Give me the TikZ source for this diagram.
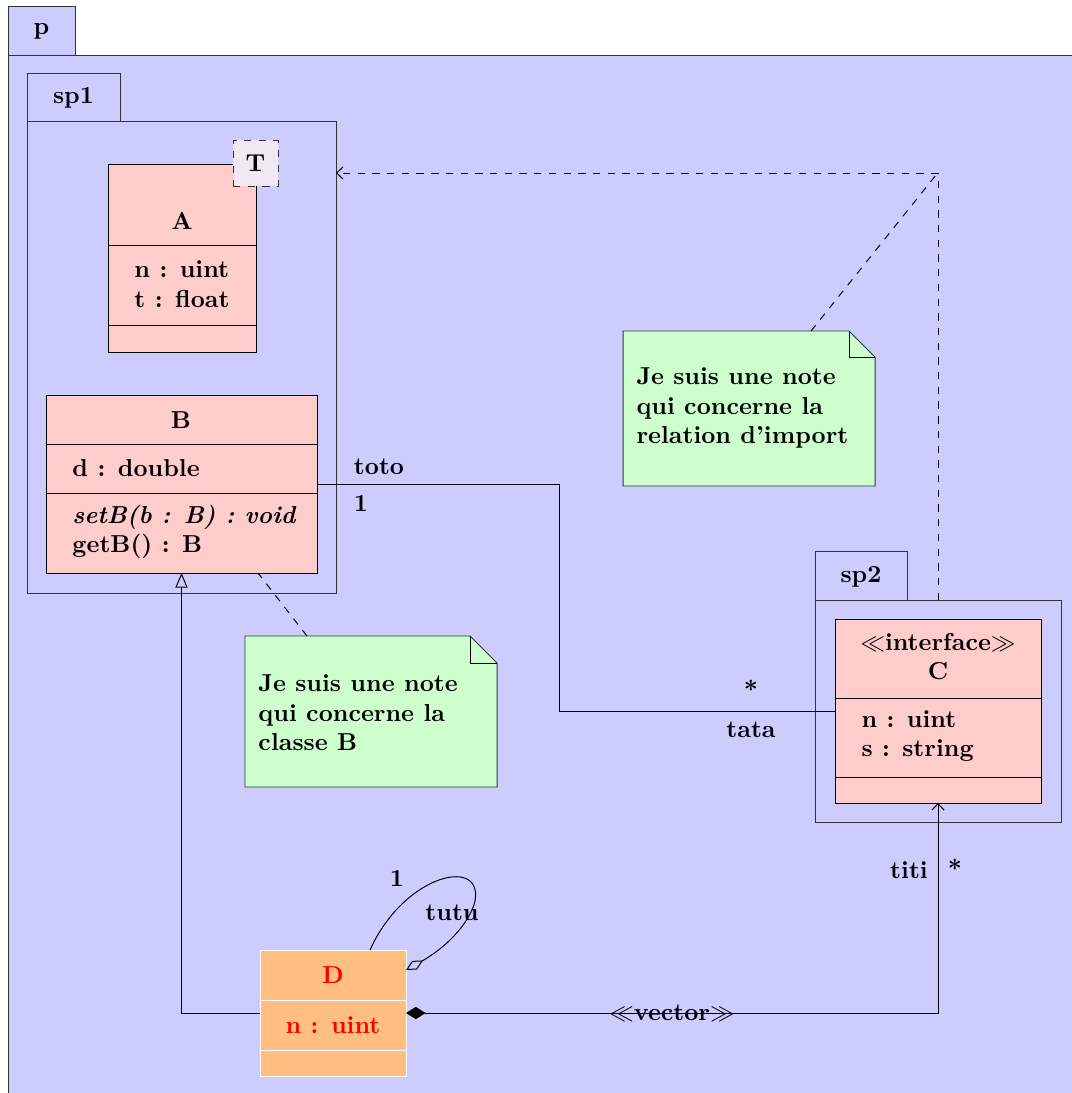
\documentclass[tikz,border=0pt]{standalone}
\usetikzlibrary{fit,arrows.meta,calc}
\definecolor{pkgfill}{RGB}{204,204,255}
\definecolor{clsfill}{RGB}{255,204,204}
\definecolor{notefill}{RGB}{204,255,204}
\definecolor{dfill}{RGB}{255,191,128}
\definecolor{tplfill}{RGB}{241,232,242}
\begin{document}
\begin{tikzpicture}[x=0.408pt,y=-0.408pt,
  box/.style={inner sep=0pt, outer sep=0pt, draw=black, line width=0.4pt},
  pkg/.style={box, fill=pkgfill, draw=black!80},
  cls/.style={box, fill=clsfill},
  tpl/.style={box, fill=tplfill, dashed, draw=black!80},
  dcls/.style={box, fill=dfill, draw=white},
  noteframe/.style={inner sep=0pt, outer sep=0pt},
  notedraw/.style={draw=black!80, fill=notefill},
  txt/.style={font=\bfseries, inner sep=0pt},
  opentip/.style={-{Straight Barb[length=2.6pt,width=5pt]}},
  inherit/.style={-{Triangle[open,length=6pt,width=5pt]}}
]
\useasboundingbox (0,0) rectangle (1071,1093);

% package p
\node[pkg, fit={(8,55)(1100,1120)}] (p) {};
\node[pkg, fit={(8,6)(75,55)}] (ptab) {};
\node[txt] (plabel) at ($(ptab.center)+(0,1)$) {p};

% package sp1
\node[pkg, fit={(27,121)(336,593)}] (sp1) {};
\node[pkg, fit={(27,73)(120,121)}] (sp1tab) {};
\node[txt] (sp1label) at ($(sp1tab.center)+(0,1)$) {sp1};

% class A
\node[cls, fit={(108,164)(256,352)}] (A) {};
\draw (108,245) -- (256,245);
\draw (108,325) -- (256,325);
\node[txt] (Aname) at (182,221) {A};
\node[txt, align=left] (Aattr) at (182,284) {n : uint\\t : float};
\node[tpl, fit={(233,140)(278,186)}] (T) {};
\node[txt] (Tlabel) at (T.center) {T};

% class B
\node[cls, fit={(46,395)(317,573)}] (B) {};
\draw (46,444) -- (317,444);
\draw (46,493) -- (317,493);
\node[txt] (Bname) at (181,420) {B};
\node[txt, anchor=west] (Battr) at (72,468) {d : double};
\node[txt, anchor=west, align=left] (Bops) at (72,532) {\textit{setB(b : B) : void}\\getB() : B};

% note B
\node[noteframe, fit={(245,636)(497,787)}] (noteB) {};
\draw[notedraw] (noteB.north west) -- ($(noteB.north east)+(-27,0)$) -- ($(noteB.north east)+(0,27)$) -- (noteB.south east) -- (noteB.south west) -- cycle;
\draw ($(noteB.north east)+(-27,0)$) -- ($(noteB.north east)+(-27,27)$) -- ($(noteB.north east)+(0,27)$);
\node[txt, anchor=west, align=left] (noteBtxt) at (258,713) {Je suis une note\\qui concerne la\\classe B};

% note import
\node[noteframe, fit={(623,331)(875,486)}] (noteI) {};
\draw[notedraw] (noteI.north west) -- ($(noteI.north east)+(-26,0)$) -- ($(noteI.north east)+(0,26)$) -- (noteI.south east) -- (noteI.south west) -- cycle;
\draw ($(noteI.north east)+(-26,0)$) -- ($(noteI.north east)+(-26,26)$) -- ($(noteI.north east)+(0,26)$);
\node[txt, anchor=west, align=left] (noteItxt) at (636,408) {Je suis une note\\qui concerne la\\relation d'import};

% package sp2
\node[pkg, fit={(815,600)(1061,822)}] (sp2) {};
\node[pkg, fit={(815,551)(907,600)}] (sp2tab) {};
\node[txt] (sp2label) at ($(sp2tab.center)+(0,1)$) {sp2};

% class C
\node[cls, fit={(835,619)(1041,803)}] (C) {};
\draw (835,698) -- (1041,698);
\draw (835,777) -- (1041,777);
\node[txt] (Cst) at (938,642) {$\ll$interface$\gg$};
\node[txt] (Cname) at (938,671) {C};
\node[txt, anchor=west, align=left] (Cattr) at (861,736) {n : uint\\s : string};

% class D
\node[dcls, fit={(260,950)(406,1076)}] (D) {};
\draw[white] (260,1000) -- (406,1000);
\draw[white] (260,1050) -- (406,1050);
\node[txt, text=red] (Dname) at (333,975) {D};
\node[txt, text=red] (Dattr) at (333,1025) {n : uint};

% import relation
\coordinate (imp) at (938,173);
\draw[dashed, opentip] (sp2.north) -- (imp) -- (imp -| sp1.east);
\draw[dashed] ($(noteI.north west)+(188,0)$) -- ($(imp)+(-2,2)$);
\draw[dashed] ($(noteB.north west)+(62,0)$) -- ($(B.south west)+(212,0)$);

% association B - C
\coordinate (bcx) at (559,600);
\draw (B.east) -- (B.east -| bcx) -- (C.west -| bcx) -- (C.west);
\node[txt] (toto) at (379,467) {toto};
\node[txt] (one1) at (361,503) {1};
\node[txt] (star1) at (751,689) {*};
\node[txt] (tata) at (751,730) {tata};

% inheritance D -> B
\draw[inherit] (D.west) -- (D.west -| B.south) -- (B.south);

% composition D - C
\draw[{Diamond[length=8pt,width=5pt]}-{Straight Barb[length=2.6pt,width=5pt]}] (D.east) -- (D.east -| C.south) -- (C.south);
\node[txt] (vec) at (672,1013) {$\ll$vector$\gg$};
\node[txt] (titi) at (909,870) {titi};
\node[txt] (star2) at (955,868) {*};

% self aggregation on D
\coordinate (Dtop) at ($(D.north)+(37,0)$);
\coordinate (Dright) at ($(D.east)+(0,-43)$);
\draw[-{Diamond[open,length=8pt,width=4pt]}] (Dtop) .. controls (405,872) and (488,855) .. (474,905) .. controls (464,932) and (438,952) .. (Dright);
\node[txt] (one2) at (397,878) {1};
\node[txt] (tutu) at (452,913) {tutu};
\end{tikzpicture}
\end{document}
